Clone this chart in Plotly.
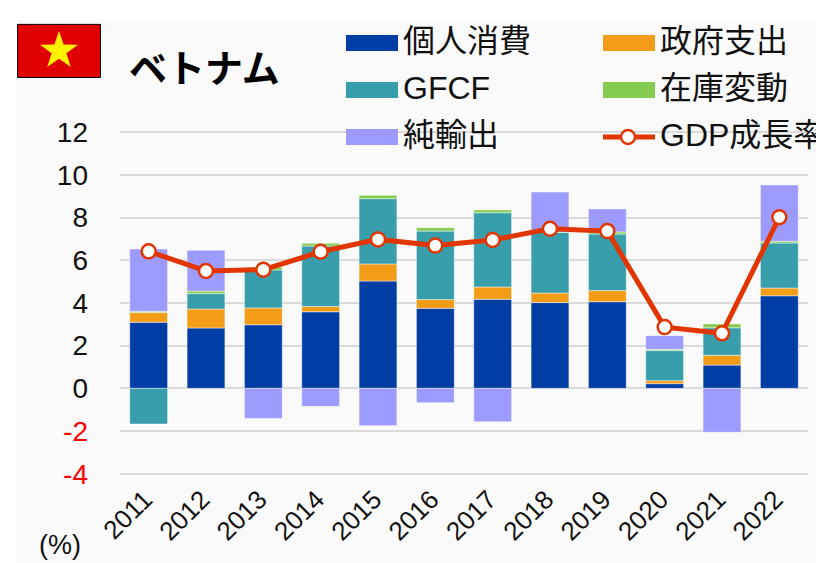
import math
import plotly.graph_objects as go

years = ["2011","2012","2013","2014","2015","2016","2017","2018","2019","2020","2021","2022"]
consumption = [3.10,2.83,2.98,3.59,5.03,3.75,4.17,4.02,4.06,0.22,1.09,4.34]
government = [0.45,0.89,0.79,0.25,0.80,0.41,0.58,0.45,0.52,0.14,0.46,0.36]
gfcf = [-1.67,0.72,1.78,2.83,3.06,3.21,3.48,2.84,2.65,1.41,1.29,2.11]
inventory = [0.06,0.12,0.12,0.13,0.16,0.16,0.13,0.02,0.10,0.06,0.18,0.08]
net_exports = [2.92,1.91,-1.41,-0.84,-1.75,-0.67,-1.56,1.87,1.08,0.64,-2.06,2.64]
gdp_growth = [6.42,5.50,5.56,6.40,6.98,6.69,6.95,7.48,7.37,2.87,2.58,8.02]
y_ticks = [-4,-2,0,2,4,6,8,10,12]

W, H = 816, 563
L, R, T, B = 120, 8, 128, 85.4
FONT = "Liberation Sans, Arial, sans-serif"
CJK = "Liberation Sans, Noto Sans CJK JP, sans-serif"
INK = "#111111"
LINE = "#E23600"
COLORS = ["#003DA5", "#F39C18", "#389EAC", "#85CC50", "#9D9BFF"]
NAMES = ["個人消費", "政府支出", "GFCF", "在庫変動", "純輸出"]

def px(x):
    return (x - L) / (W - L - R)

def py(y):
    return 1 - (y - T) / (H - T - B)

fig = go.Figure()
for name, vals, col in zip(NAMES, [consumption, government, gfcf, inventory, net_exports], COLORS):
    fig.add_trace(go.Bar(x=years, y=vals, name=name, marker=dict(color=col, line=dict(color="rgba(255,255,255,0.45)", width=1))))
fig.add_trace(go.Scatter(x=years, y=gdp_growth, name="GDP成長率", mode="lines+markers",
                         line=dict(color=LINE, width=5),
                         marker=dict(size=14, color="white", line=dict(color=LINE, width=2.5))))

shapes = [dict(type="rect", xref="paper", yref="paper", x0=px(17), x1=px(W), y0=py(H), y1=py(19),
               fillcolor="#FAFAFA", line_width=0, layer="below"),
          dict(type="rect", xref="paper", yref="paper", x0=px(17.5), x1=px(100.5), y0=py(77.5), y1=py(24.5),
               fillcolor="#E00000", line=dict(color="black", width=1))]

cx, cy, r1, r2 = 59, 51, 20, 7.8
pts = []
for i in range(10):
    r = r1 if i % 2 == 0 else r2
    a = -math.pi / 2 + i * math.pi / 5
    pts.append((px(cx + r * math.cos(a)), py(cy + r * math.sin(a))))
path = "M " + " L ".join(f"{a:.5f} {b:.5f}" for a, b in pts) + " Z"
shapes.append(dict(type="path", xref="paper", yref="paper", path=path, fillcolor="#FFF200", line_width=0))

annotations = [
    dict(text="<b>ベトナム</b>", x=px(127), y=py(66), xanchor="left", yanchor="middle", font=dict(size=38, color="black", family="Noto Sans CJK JP, sans-serif")),
    dict(text="(%)", x=px(37), y=py(545), xanchor="left", yanchor="middle", font=dict(size=27, color=INK, family=FONT)),
]

entries = [(0, 346, 41), (1, 603, 41), (2, 346, 88), (3, 603, 88), (4, 346, 135)]
for idx, sx, sy in entries:
    shapes.append(dict(type="rect", xref="paper", yref="paper", x0=px(sx), x1=px(sx + 52), y0=py(sy + 10), y1=py(sy - 6),
                       fillcolor=COLORS[idx], line_width=0))
    annotations.append(dict(text=NAMES[idx], x=px(sx + 55), y=py(sy), xanchor="left", yanchor="middle",
                            font=dict(size=32, color=INK, family=CJK)))
shapes.append(dict(type="line", xref="paper", yref="paper", x0=px(603), x1=px(655), y0=py(137), y1=py(137),
                   line=dict(color=LINE, width=5)))
shapes.append(dict(type="circle", xref="paper", yref="paper", x0=px(621), x1=px(635), y0=py(144), y1=py(130),
                   fillcolor="white", line=dict(color=LINE, width=2.5)))
annotations.append(dict(text="GDP成長率", x=px(658), y=py(135), xanchor="left", yanchor="middle",
                        font=dict(size=32, color=INK, family=CJK)))

ticktext = [f'<span style="color:#FF0000">{v}</span>' if v < 0 else str(v) for v in y_ticks]

fig.update_layout(
    width=W, height=H, autosize=False, showlegend=False,
    margin=dict(l=L, r=R, t=T, b=B),
    paper_bgcolor="white", plot_bgcolor="rgba(0,0,0,0)",
    barmode="relative", bargap=0.34,
    font=dict(family=FONT, color=INK),
    shapes=shapes, annotations=[dict(a, xref="paper", yref="paper", showarrow=False) for a in annotations],
    xaxis=dict(type="category", range=[-0.5, 11.5], tickangle=-45, tickfont=dict(size=26, color=INK), ticks="", showgrid=False, zeroline=False, showline=False, ticklabelshift=-4),
    yaxis=dict(range=[-4.2, 12.2], tickvals=y_ticks, ticktext=ticktext, tickfont=dict(size=28, color=INK), ticks="",
               gridcolor="#DADADA", gridwidth=1.6, zeroline=False, showline=False, ticklabelstandoff=31),
)
fig.write_html("out.html", config=dict(displayModeBar=False), post_script="document.body.style.margin='0';document.documentElement.style.overflow='hidden';")
